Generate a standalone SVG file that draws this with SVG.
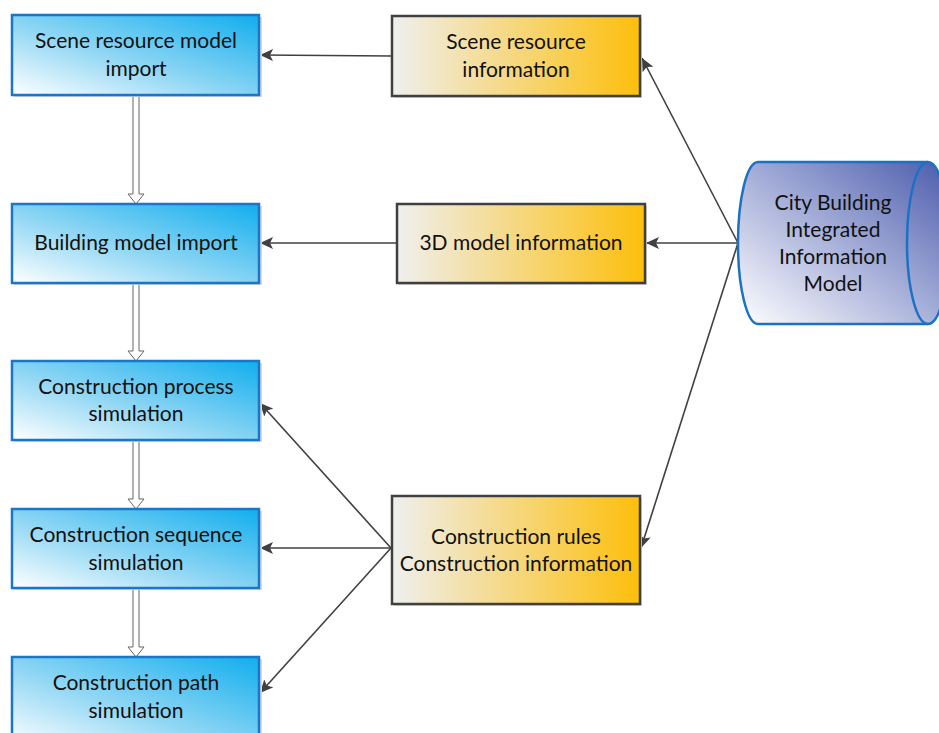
<svg xmlns="http://www.w3.org/2000/svg" width="939" height="733" viewBox="0 0 939 733">
<defs>
<linearGradient id="gBlue" x1="0" y1="1" x2="1" y2="0">
<stop offset="0" stop-color="#ffffff"/>
<stop offset="0.45" stop-color="#8fd6f4"/>
<stop offset="1" stop-color="#10aeee"/>
</linearGradient>
<linearGradient id="gOrange" x1="0" y1="0" x2="1" y2="0">
<stop offset="0" stop-color="#efefef"/>
<stop offset="1" stop-color="#fdbf0b"/>
</linearGradient>
<linearGradient id="gCyl" x1="0" y1="1" x2="1" y2="0">
<stop offset="0" stop-color="#ffffff"/>
<stop offset="0.5" stop-color="#a5aed8"/>
<stop offset="1" stop-color="#4b5bab"/>
</linearGradient>
<marker id="arr" markerUnits="userSpaceOnUse" markerWidth="14" markerHeight="12" refX="13" refY="6" orient="auto">
<path d="M0,0 L13,6 L0,12 L3,6 Z" fill="#404040"/>
</marker>
</defs>
<style>
.blue{fill:url(#gBlue);stroke:#1b76c9;stroke-width:2.5}
.org{fill:url(#gOrange);stroke:#404040;stroke-width:2.5}
.sh{fill:#d8d8d8}
.t{font-family:Lato,"Liberation Sans",sans-serif;font-size:21px;fill:#111;text-anchor:middle}
.c{fill:none;stroke:#404040;stroke-width:1.6;marker-end:url(#arr)}
.h{fill:#fff;stroke:#666;stroke-width:1}
</style>
<g id="connectors">
<path class="c" d="M392,56 L260,55"/>
<path class="c" d="M738,243 L642,58"/>
<path class="c" d="M738,243 L646,243"/>
<path class="c" d="M738,243 L641,548"/>
<path class="c" d="M397,243 L260,243"/>
<path class="c" d="M391,548 L260,403"/>
<path class="c" d="M391,548 L260,548"/>
<path class="c" d="M391,548 L260,693"/>
<path class="h" d="M133,96 L133,194 L128,194 L136,204 L144,194 L139,194 L139,96 Z"/>
<path class="h" d="M133,284 L133,351 L128,351 L136,361 L144,351 L139,351 L139,284 Z"/>
<path class="h" d="M133,441 L133,499 L128,499 L136,509 L144,499 L139,499 L139,441 Z"/>
<path class="h" d="M133,589 L133,647 L128,647 L136,657 L144,647 L139,647 L139,589 Z"/>
</g>
<g id="n1"><rect class="sh" x="14" y="17" width="248" height="80"/><rect class="blue" x="12" y="15" width="247" height="80"/>
<text class="t" x="136" y="48">Scene resource model</text><text class="t" x="136" y="76">import</text></g>
<g id="n2"><rect class="sh" x="14" y="206" width="248" height="79"/><rect class="blue" x="12" y="204" width="247" height="79"/>
<text class="t" x="136" y="250">Building model import</text></g>
<g id="n3"><rect class="sh" x="14" y="363" width="248" height="79"/><rect class="blue" x="12" y="361" width="247" height="79"/>
<text class="t" x="136" y="394">Construction process</text><text class="t" x="136" y="421">simulation</text></g>
<g id="n4"><rect class="sh" x="14" y="511" width="248" height="79"/><rect class="blue" x="12" y="509" width="247" height="79"/>
<text class="t" x="136" y="542">Construction sequence</text><text class="t" x="136" y="570">simulation</text></g>
<g id="n5"><rect class="sh" x="14" y="659" width="248" height="90"/><rect class="blue" x="12" y="657" width="247" height="90"/>
<text class="t" x="136" y="690">Construction path</text><text class="t" x="136" y="718">simulation</text></g>
<g id="o1"><rect class="sh" x="394" y="18" width="248" height="80"/><rect class="org" x="392" y="16" width="248" height="80"/>
<text class="t" x="516" y="49">Scene resource</text><text class="t" x="516" y="77">information</text></g>
<g id="o2"><rect class="sh" x="399" y="206" width="248" height="79"/><rect class="org" x="397" y="204" width="248" height="79"/>
<text class="t" x="521" y="250">3D model information</text></g>
<g id="o3"><rect class="sh" x="394" y="498" width="248" height="108"/><rect class="org" x="392" y="496" width="248" height="108"/>
<text class="t" x="516" y="544">Construction rules</text><text class="t" x="516" y="571">Construction information</text></g>
<g id="cyl">
<path d="M758,162 L928,162 A21,81 0 0 1 928,324 L758,324 A20,81 0 0 1 758,162 Z" fill="url(#gCyl)" stroke="#1b72c4" stroke-width="2.5"/>
<path d="M928,162 A21,81 0 0 0 928,324" fill="none" stroke="#1b72c4" stroke-width="2.5"/>
<text class="t" x="833" y="210">City Building</text>
<text class="t" x="833" y="237">Integrated</text>
<text class="t" x="833" y="264">Information</text>
<text class="t" x="833" y="291">Model</text>
</g>
</svg>
